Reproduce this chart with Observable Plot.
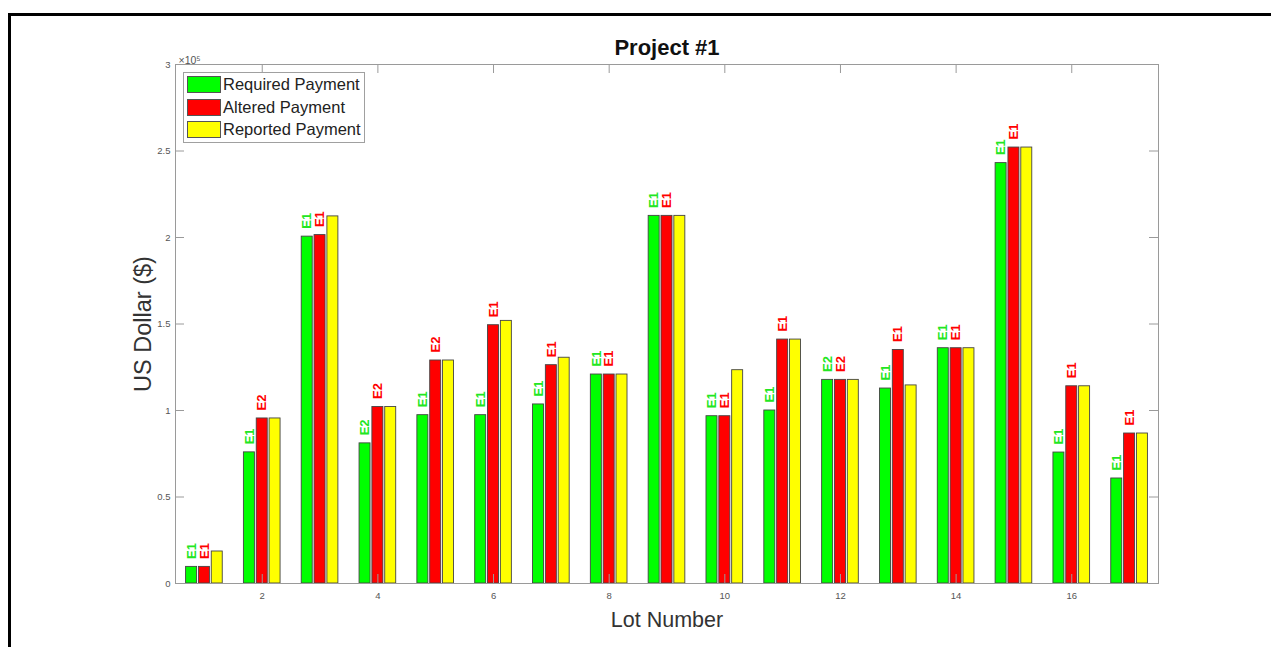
<!DOCTYPE html>
<html>
<head>
<meta charset="utf-8">
<script src="https://cdn.jsdelivr.net/npm/d3@7"></script>
<script src="https://cdn.jsdelivr.net/npm/@observablehq/plot@0.6"></script>
<style>
  html, body { margin: 0; padding: 0; background: #fff; overflow: hidden; width: 1271px; height: 647px; }
  #wrap { position: relative; width: 1271px; height: 647px; font-family: "Liberation Sans", Arial, sans-serif; }
  #border { position: absolute; left: 8px; top: 13px; width: 1400px; height: 800px; border: 3px solid #000; box-sizing: border-box; }
  #chart { position: absolute; left: 0; top: 0; }
  #legend { position: absolute; left: 183px; top: 72px; width: 182px; height: 71px; border: 1px solid #a0a0a0; background: #fff; box-sizing: border-box; }
  .row { position: absolute; left: 3px; height: 17px; display: flex; align-items: center; }
  .sw { width: 34px; height: 17px; box-sizing: border-box; border: 1px solid #555; margin-right: 2px; }
  .lab { font-size: 16.5px; color: #222; white-space: nowrap; }
</style>
</head>
<body>
<div id="wrap">
  <div id="border"></div>
  <div id="chart"></div>
  <div id="legend"></div>
</div>
<script>
// ---- data ----
const lots = [1, 2, 3, 4, 5, 6, 7, 8, 9, 10, 11, 12, 13, 14, 15, 16, 17];
const seriesNames = ["Required Payment", "Altered Payment", "Reported Payment"];
const seriesColors = ["#00ff00", "#ff0000", "#ffff00"];
const required = [9600, 75800, 200500, 81000, 97300, 97300, 103500, 120800, 212500, 96700, 100000, 117700, 112700, 136000, 243000, 75700, 60700];
const altered  = [9600, 95400, 201400, 102000, 128900, 149300, 126200, 120800, 212500, 96700, 141000, 117700, 135000, 136000, 252000, 114000, 86700];
const reported = [18500, 95400, 212200, 102000, 128900, 151800, 130500, 120800, 212500, 123300, 141000, 117700, 114500, 136000, 252000, 114000, 86700];
const requiredLabels = ["E1","E1","E1","E2","E1","E1","E1","E1","E1","E1","E1","E2","E1","E1","E1","E1","E1"];
const alteredLabels  = ["E1","E2","E1","E2","E2","E1","E1","E1","E1","E1","E1","E2","E1","E1","E1","E1","E1"];
const xTicks = [2, 4, 6, 8, 10, 12, 14, 16];
const yTicks = [0, 50000, 100000, 150000, 200000, 250000, 300000];
const title = "Project #1";
const xLabel = "Lot Number";
const yLabel = "US Dollar ($)";
const exponentLabel = "×10⁵";

// ---- build table ----
const seriesValues = [required, altered, reported];
const seriesLabels = [requiredLabels, alteredLabels, null];
const groupOffsets = [-0.222, 0, 0.222];
const barWidth = 0.19;
const bars = [];
seriesValues.forEach((vals, s) => {
  vals.forEach((v, i) => {
    bars.push({lot: lots[i], series: s, value: v, label: seriesLabels[s] ? seriesLabels[s][i] : null});
  });
});
const labelled = bars.filter(d => d.label);

const W = 1271, H = 647;
const mL = 175, mR = 113, mT = 64, mB = 64;
const plotW = W - mL - mR, plotH = H - mT - mB;
const tickLen = 9;
const axisGray = "#9a9a9a";

const chart = Plot.plot({
  width: W,
  height: H,
  marginLeft: mL, marginRight: mR, marginTop: mT, marginBottom: mB,
  style: {fontFamily: "Liberation Sans, Arial, sans-serif", background: "transparent", overflow: "visible"},
  x: {type: "linear", domain: [0.5, 17.5]},
  y: {domain: [0, 300000]},
  marks: [
    Plot.rectY(bars, {
      x1: d => d.lot + groupOffsets[d.series] - barWidth / 2,
      x2: d => d.lot + groupOffsets[d.series] + barWidth / 2,
      y1: 0,
      y2: "value",
      fill: d => seriesColors[d.series],
      stroke: "#444",
      strokeWidth: 0.9
    }),
    Plot.text(labelled, {
      x: d => d.lot + groupOffsets[d.series],
      y: "value",
      text: "label",
      rotate: -90,
      textAnchor: "start",
      lineAnchor: "middle",
      dy: -8,
      fontSize: 13,
      fontWeight: "bold",
      fill: d => d.series === 0 ? "#22e622" : "#ff0000"
    }),
    Plot.frame({stroke: axisGray, strokeWidth: 1}),
    // inward ticks (MATLAB style box)
    Plot.tickY(yTicks, {y: d => d, insetRight: plotW - tickLen, stroke: axisGray}),
    Plot.tickY(yTicks, {y: d => d, insetLeft: plotW - tickLen, stroke: axisGray}),
    Plot.tickX(xTicks, {x: d => d, insetTop: plotH - tickLen, stroke: axisGray}),
    Plot.tickX(xTicks, {x: d => d, insetBottom: plotH - tickLen, stroke: axisGray}),
    Plot.axisY(yTicks, {tickSize: 0, tickPadding: 5, fontSize: 9.5, fill: "#555", label: null, tickFormat: d => String(d / 1e5)}),
    Plot.axisX(xTicks, {tickSize: 0, tickPadding: 9, fontSize: 9.5, fill: "#555", label: null, tickFormat: d => String(d)}),
    Plot.text([exponentLabel], {frameAnchor: "top-left", textAnchor: "start", lineAnchor: "bottom", dx: 3, dy: -1, fontSize: 10.5, fill: "#555"}),
    Plot.text([title], {frameAnchor: "top", lineAnchor: "middle", dy: -17, fontSize: 22, fontWeight: "bold", fill: "#111"}),
    Plot.text([xLabel], {frameAnchor: "bottom", lineAnchor: "middle", dy: 37, fontSize: 21.5, fill: "#333"}),
    Plot.text([yLabel], {frameAnchor: "left", rotate: -90, lineAnchor: "middle", textAnchor: "middle", dx: -32, fontSize: 23.5, fill: "#333"})
  ]
});
document.getElementById("chart").appendChild(chart);

// ---- legend ----
const legend = document.getElementById("legend");
seriesNames.forEach((name, s) => {
  const row = document.createElement("div");
  row.className = "row";
  row.style.top = (3 + s * 22.5) + "px";
  const sw = document.createElement("div");
  sw.className = "sw";
  sw.style.background = seriesColors[s];
  const lab = document.createElement("span");
  lab.className = "lab";
  lab.textContent = name;
  row.appendChild(sw);
  row.appendChild(lab);
  legend.appendChild(row);
});
</script>
</body>
</html>
